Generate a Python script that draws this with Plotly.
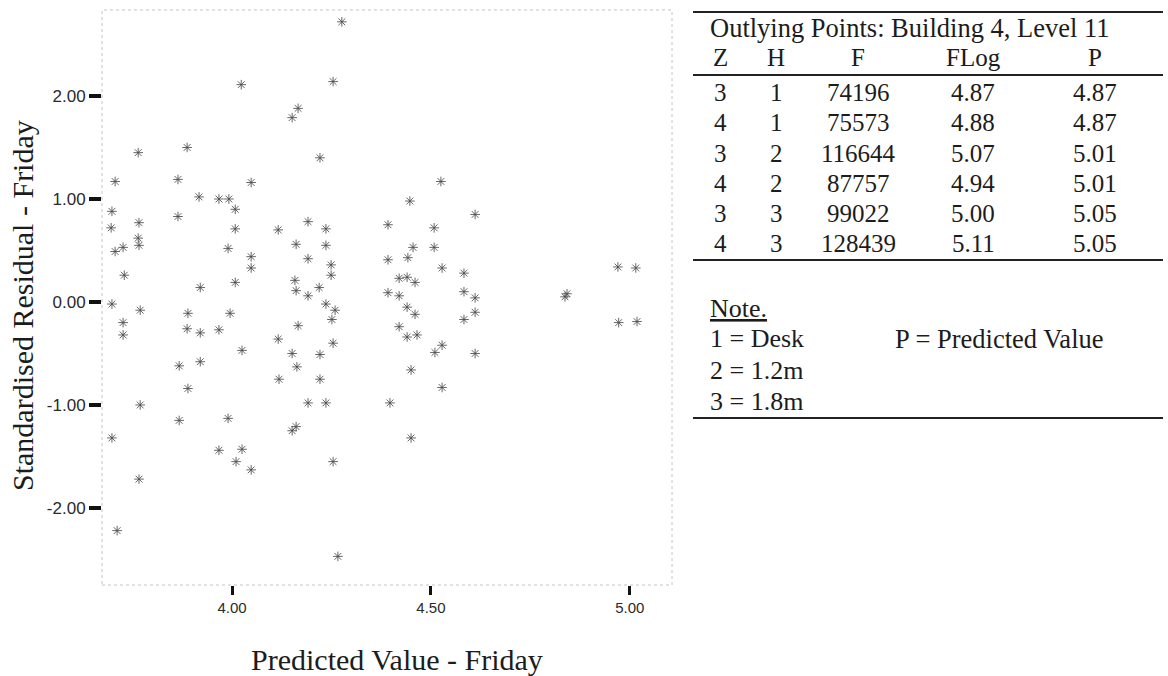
import plotly.graph_objects as go

W, H = 1168, 676

# ---------------- data ----------------
pred_value = [
    4.276, 4.254, 4.023, 4.166, 4.151, 4.221, 3.887, 3.764, 3.706, 3.864,
    4.048, 3.917, 3.967, 3.992, 4.008, 3.698, 3.864, 3.696, 3.766, 3.764,
    3.766, 3.706, 3.726, 3.729, 3.920, 4.008, 4.008, 4.048, 4.048, 4.116,
    4.161, 4.191, 4.236, 4.236, 4.191, 4.249, 4.249, 4.158, 4.161, 4.219,
    4.191, 4.392, 4.392, 4.392, 4.525, 4.447, 4.611, 4.508, 4.508, 4.455,
    4.442, 4.420, 4.440, 4.460, 4.528, 4.583, 4.842, 4.970, 5.015, 4.420,
    4.583, 4.611, 4.611, 4.440, 4.460, 4.583, 4.420, 4.440, 4.465, 4.510,
    4.528, 4.611, 4.450, 4.972, 5.018, 4.528, 4.397, 4.450, 3.698, 3.769,
    3.726, 3.726, 3.889, 3.995, 3.887, 3.920, 3.967, 4.025, 3.867, 3.920,
    3.889, 4.116, 4.151, 4.163, 4.166, 4.236, 4.259, 4.251, 4.254, 4.221,
    4.118, 4.221, 4.191, 4.236, 3.769, 3.867, 3.990, 3.698, 4.161, 4.151,
    3.967, 4.025, 4.010, 4.048, 4.254, 3.766, 3.711, 4.266, 3.990, 4.837,
]
std_resid = [
    2.72, 2.14, 2.11, 1.88, 1.79, 1.40, 1.50, 1.45, 1.17, 1.19,
    1.16, 1.02, 1.00, 1.00, 0.90, 0.88, 0.83, 0.72, 0.77, 0.62,
    0.55, 0.49, 0.53, 0.26, 0.14, 0.19, 0.71, 0.44, 0.33, 0.70,
    0.56, 0.78, 0.71, 0.55, 0.42, 0.36, 0.26, 0.21, 0.11, 0.14,
    0.06, 0.75, 0.41, 0.09, 1.17, 0.98, 0.85, 0.72, 0.53, 0.53,
    0.43, 0.23, 0.24, 0.19, 0.33, 0.28, 0.08, 0.34, 0.33, 0.06,
    0.10, 0.04, -0.10, -0.05, -0.12, -0.17, -0.24, -0.34, -0.32, -0.49,
    -0.42, -0.50, -0.66, -0.20, -0.19, -0.83, -0.98, -1.32, -0.02, -0.08,
    -0.20, -0.32, -0.11, -0.11, -0.26, -0.30, -0.27, -0.47, -0.62, -0.58,
    -0.84, -0.36, -0.50, -0.63, -0.23, -0.02, -0.08, -0.17, -0.40, -0.51,
    -0.75, -0.75, -0.98, -0.98, -1.00, -1.15, -1.13, -1.32, -1.21, -1.25,
    -1.44, -1.43, -1.55, -1.63, -1.55, -1.72, -2.22, -2.47, 0.52, 0.05,
]

x_tick_vals = [4.0, 4.5, 5.0]
x_tick_text = ["4.00", "4.50", "5.00"]
y_tick_vals = [-2, -1, 0, 1, 2]
y_tick_text = ["-2.00", "-1.00", "0.00", "1.00", "2.00"]

x_title = "Predicted Value - Friday"
y_title = "Standardised Residual - Friday"

table_title = "Outlying Points: Building 4, Level 11"
col_headers = ["Z", "H", "F", "FLog", "P"]
col_Z = ["3", "4", "3", "4", "3", "4"]
col_H = ["1", "1", "2", "2", "3", "3"]
col_F = ["74196", "75573", "116644", "87757", "99022", "128439"]
col_FLog = ["4.87", "4.88", "5.07", "4.94", "5.00", "5.11"]
col_P = ["4.87", "4.87", "5.01", "5.01", "5.05", "5.05"]
note_title = "Note."
note_lines = ["1 = Desk", "2 = 1.2m", "3 = 1.8m"]
note_p = "P = Predicted Value"

# ---------------- layout helpers (pixel -> paper) ----------------
def px(x):
    return x / W

def py(y):
    return 1 - y / H

SERIF = "Liberation Serif, Times New Roman, serif"
SANS = "Liberation Sans, Arial, sans-serif"
TXT = "#1c1c1c"
MARK = "rgba(75,75,75,0.85)"

fig = go.Figure()
fig.add_trace(go.Scatter(
    x=pred_value, y=std_resid, mode="markers",
    marker=dict(symbol="asterisk-open", size=8, color=MARK,
                line=dict(color=MARK, width=1)),
    hoverinfo="x+y", showlegend=False,
))

plot_l, plot_r, plot_t, plot_b = 102, 672, 10, 585

fig.update_layout(
    width=W, height=H,
    margin=dict(l=0, r=0, t=0, b=0),
    paper_bgcolor="white", plot_bgcolor="white",
    showlegend=False,
    xaxis=dict(
        domain=[px(plot_l), px(plot_r)],
        range=[3.673, 5.106],
        tickvals=x_tick_vals, ticktext=x_tick_text,
        ticks="outside", ticklen=9, tickwidth=3, tickcolor="#111",
        tickfont=dict(family=SANS, size=15, color="#2a2a2a"),
        showgrid=False, zeroline=False, showline=False,
    ),
    yaxis=dict(
        domain=[py(plot_b), py(plot_t)],
        range=[-2.748, 2.835],
        tickvals=y_tick_vals, ticktext=y_tick_text,
        ticks="outside", ticklen=12, tickwidth=4, tickcolor="#111",
        tickfont=dict(family=SANS, size=17, color="#2a2a2a"),
        showgrid=False, zeroline=False, showline=False,
    ),
)

shapes = []
# faint dotted plot frame
shapes.append(dict(type="rect", xref="paper", yref="paper",
                   x0=px(plot_l), x1=px(plot_r), y0=py(plot_b), y1=py(plot_t),
                   line=dict(color="#c4c4c4", width=1, dash="dot")))

# table rules
tl, tr = 693, 1163
for yy in [12, 75, 260, 418]:
    shapes.append(dict(type="line", xref="paper", yref="paper",
                       x0=px(tl), x1=px(tr), y0=py(yy), y1=py(yy),
                       line=dict(color="#222", width=2)))

annotations = []

def add_text(text, x, y, size=25, anchor="center", font=SERIF, angle=0):
    annotations.append(dict(
        text=text, x=px(x), y=py(y), xref="paper", yref="paper",
        xanchor=anchor, yanchor="middle", showarrow=False, textangle=angle,
        font=dict(family=font, size=size, color=TXT),
    ))

# axis titles
add_text(x_title, 397, 659, size=30)
add_text(y_title, 22, 306, size=30, angle=-90)

# table
add_text(table_title, 708, 28, size=26.5, anchor="left")
col_x = [720, 776, 858, 973, 1095]
for cx, hdr in zip(col_x, col_headers):
    add_text(hdr, cx, 58)
row_y = [93, 123, 153, 183, 213, 243]
for i, ry in enumerate(row_y):
    for cx, col in zip(col_x, [col_Z, col_H, col_F, col_FLog, col_P]):
        add_text(col[i], cx, ry)

add_text("<u>" + note_title + "</u>", 708, 308, size=26, anchor="left")
for ry, line in zip([339, 370, 401], note_lines):
    add_text(line, 708, ry, size=26, anchor="left")
add_text(note_p, 893, 339, size=26.5, anchor="left")

fig.update_layout(shapes=shapes, annotations=annotations)

fig.write_html("out.html")
